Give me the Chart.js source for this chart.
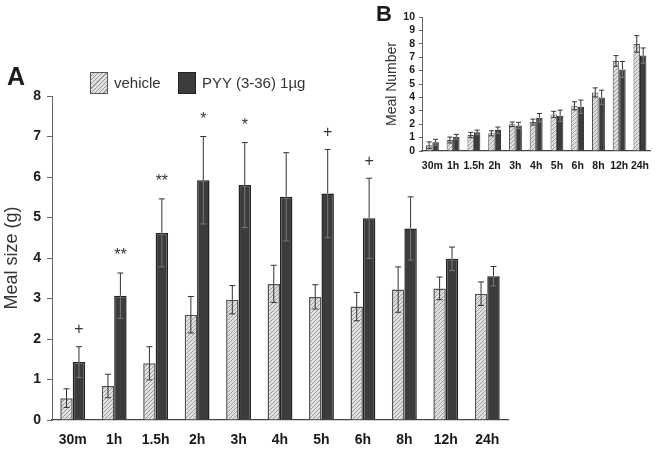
<!DOCTYPE html>
<html>
<head>
<meta charset="utf-8">
<script src="https://cdn.jsdelivr.net/npm/chart.js@4.4.1/dist/chart.umd.min.js"></script>
<style>
  body { margin: 0; background: #fff; font-family: Arial, "Liberation Sans", sans-serif; }
  #wrap { position: relative; width: 658px; height: 450px; overflow: hidden; }
  .box { position: absolute; }
  .letter { position: absolute; font-weight: bold; color: #1a1a1a; }
  .leg { position: absolute; font-size: 15px; color: #333; }
  .sw { position: absolute; width: 16px; height: 20px; border: 1.5px solid #555; }
  .sw.veh { background: repeating-linear-gradient(-45deg, #e2e2e2 0 2px, #9a9a9a 2px 3px); }
  .sw.pyy { background: #3c3c3c; border-color: #222; }
</style>
</head>
<body>
<div id="wrap">
  <div class="box" style="left:0;top:0;width:520px;height:450px;"><canvas id="chartA"></canvas></div>
  <div class="box" style="left:370px;top:0;width:288px;height:175px;"><canvas id="chartB"></canvas></div>
  <div class="letter" style="left:7px;top:62px;font-size:25px;">A</div>
  <div class="letter" style="left:376px;top:1px;font-size:22px;">B</div>
  <div class="sw veh" style="left:90px;top:72px;"></div>
  <div class="leg" style="left:114px;top:74px;">vehicle</div>
  <div class="sw pyy" style="left:178px;top:72px;"></div>
  <div class="leg" style="left:202px;top:74px;">PYY (3-36) 1µg</div>
</div>
<script>
// Zeitpunkte
const zeiten = ['30m', '1h', '1.5h', '2h', '3h', '4h', '5h', '6h', '8h', '12h', '24h'];

// A: Meal size (g)
const sizeVehicle = [0.54, 0.84, 1.40, 2.60, 2.97, 3.36, 3.04, 2.80, 3.22, 3.25, 3.12];
const sizeVehicleErr = [0.23, 0.29, 0.41, 0.45, 0.35, 0.46, 0.30, 0.35, 0.56, 0.28, 0.29];
const sizePyy = [1.43, 3.07, 4.62, 5.92, 5.80, 5.51, 5.59, 4.98, 4.73, 3.98, 3.55];
const sizePyyErr = [0.38, 0.56, 0.84, 1.08, 1.05, 1.09, 1.09, 0.99, 0.78, 0.29, 0.24];
const sizeSig = ['+', '**', '**', '*', '*', '', '+', '+', '', '', ''];
const sizeTicks = [0, 1, 2, 3, 4, 5, 6, 7, 8];

// B: Meal Number
const numVehicle = [0.43, 0.82, 1.19, 1.32, 1.99, 2.16, 2.73, 3.37, 4.37, 6.72, 7.99];
const numVehicleErr = [0.25, 0.22, 0.20, 0.19, 0.17, 0.22, 0.23, 0.30, 0.34, 0.40, 0.62];
const numPyy = [0.65, 1.06, 1.39, 1.56, 1.91, 2.48, 2.63, 3.30, 4.00, 6.08, 7.12];
const numPyyErr = [0.22, 0.18, 0.17, 0.23, 0.23, 0.32, 0.42, 0.50, 0.54, 0.60, 0.57];
const numTicks = [0, 1, 2, 3, 4, 5, 6, 7, 8, 9, 10];

function schraffur() {
  const c = document.createElement('canvas');
  c.width = 4; c.height = 4;
  const g = c.getContext('2d');
  g.fillStyle = '#e0e0e0';
  g.fillRect(0, 0, 4, 4);
  g.strokeStyle = '#9c9c9c';
  g.lineWidth = 1;
  g.beginPath();
  g.moveTo(0, 4); g.lineTo(4, 0);
  g.moveTo(-1, 1); g.lineTo(1, -1);
  g.moveTo(3, 5); g.lineTo(5, 3);
  g.stroke();
  return g.createPattern(c, 'repeat');
}

// Fehlerbalken + Signifikanz-Zeichen
const extras = {
  id: 'extras',
  afterDatasetsDraw(chart, args, opts) {
    const ctx = chart.ctx;
    const y = chart.scales.y;
    ctx.save();
    chart.data.datasets.forEach((ds, di) => {
      const meta = chart.getDatasetMeta(di);
      const errs = opts.errs[di];
      meta.data.forEach((bar, i) => {
        const v = ds.data[i], e = errs[i];
        const yTop = y.getPixelForValue(v + e);
        const yVal = y.getPixelForValue(v);
        const yLow = y.getPixelForValue(v - e);
        ctx.lineWidth = 1;
        ctx.strokeStyle = '#333';
        ctx.beginPath();
        ctx.moveTo(bar.x, yTop); ctx.lineTo(bar.x, yVal);
        ctx.moveTo(bar.x - opts.cap, yTop); ctx.lineTo(bar.x + opts.cap, yTop);
        ctx.stroke();
        ctx.strokeStyle = di === 1 ? '#7a7a7a' : '#333';
        ctx.beginPath();
        ctx.moveTo(bar.x, yVal); ctx.lineTo(bar.x, yLow);
        ctx.moveTo(bar.x - opts.cap, yLow); ctx.lineTo(bar.x + opts.cap, yLow);
        ctx.stroke();
      });
    });
    if (opts.marks) {
      const meta = chart.getDatasetMeta(1);
      const ds = chart.data.datasets[1];
      ctx.fillStyle = '#333';
      ctx.font = '16px Arial';
      ctx.textAlign = 'center';
      ctx.textBaseline = 'middle';
      opts.marks.forEach((m, i) => {
        if (!m) return;
        const yTop = y.getPixelForValue(ds.data[i] + opts.errs[1][i]);
        ctx.fillText(m, meta.data[i].x, yTop - 17);
      });
    }
    ctx.restore();
  }
};

const muster = schraffur();

function balkenChart(id, vehicle, pyy, ticks, opt) {
  return new Chart(document.getElementById(id), {
    type: 'bar',
    data: {
      labels: zeiten,
      datasets: [
        { label: 'vehicle', data: vehicle, backgroundColor: muster, borderColor: '#555', borderWidth: opt.bw },
        { label: 'PYY (3-36) 1µg', data: pyy, backgroundColor: '#3c3c3c', borderColor: '#222', borderWidth: opt.bw }
      ]
    },
    options: {
      responsive: true,
      maintainAspectRatio: false,
      animation: false,
      datasets: { bar: { categoryPercentage: opt.cat, barPercentage: 1 } },
      layout: { padding: opt.padding },
      plugins: {
        legend: { display: false },
        tooltip: { enabled: false },
        extras: opt.extras
      },
      scales: {
        x: {
          grid: { display: false, drawTicks: false },
          border: { display: true, color: '#444', width: 1.2 },
          ticks: { color: '#1a1a1a', padding: opt.xPad, autoSkip: false, maxRotation: 0, minRotation: 0,
            font: { family: 'Arial', weight: 'bold', size: opt.fs } },
          afterFit: s => { s.height = opt.xH; }
        },
        y: {
          min: 0,
          max: ticks[ticks.length - 1],
          afterBuildTicks: s => { s.ticks = ticks.map(v => ({ value: v })); },
          grid: { drawOnChartArea: false, drawTicks: true, tickLength: opt.tl, color: '#666' },
          border: { display: true, color: '#666', width: 1 },
          ticks: { color: '#1a1a1a', padding: opt.yPad, autoSkip: false,
            font: { family: 'Arial', weight: 'bold', size: opt.fs } },
          title: { display: true, text: opt.title, color: '#333', padding: { top: opt.tPad, bottom: 0 }, font: { family: 'Arial', size: opt.tfs } },
          afterFit: s => { s.width = 52; }
        }
      }
    },
    plugins: [extras]
  });
}

balkenChart('chartA', sizeVehicle, sizePyy, sizeTicks, {
  bw: 1.5, cat: 0.6, fs: 14, tfs: 18, tPad: 1, title: 'Meal size (g)',
  padding: { left: 0, top: 96, right: 12, bottom: 0 },
  xH: 30, xPad: 12, tl: 5, yPad: 6,
  extras: { errs: [sizeVehicleErr, sizePyyErr], cap: 3, marks: sizeSig }
});

balkenChart('chartB', numVehicle, numPyy, numTicks, {
  bw: 1, cat: 0.62, fs: 10.5, tfs: 14, tPad: 14, title: 'Meal Number',
  padding: { left: 0, top: 17, right: 0, bottom: 0 },
  xH: 24, xPad: 9, tl: 3, yPad: 4,
  extras: { errs: [numVehicleErr, numPyyErr], cap: 2.5 }
});
</script>
</body>
</html>
